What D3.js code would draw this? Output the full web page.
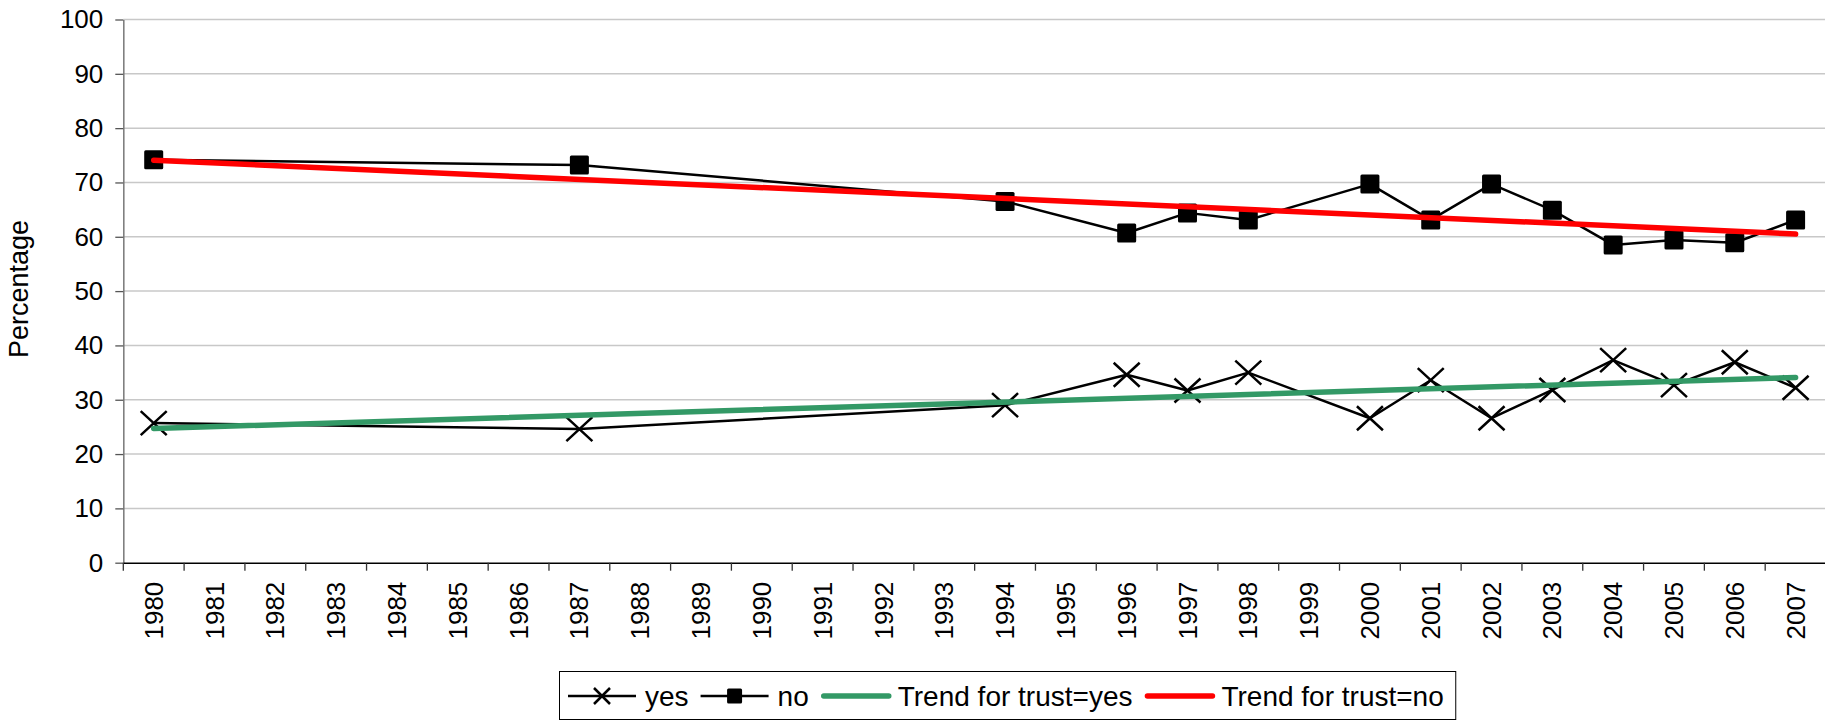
<!DOCTYPE html>
<html>
<head>
<meta charset="utf-8">
<script src="https://cdn.jsdelivr.net/npm/d3@7"></script>
<style>
body { margin: 0; background: #fff; }
text { font-family: "Liberation Sans", Arial, sans-serif; fill: #000; }
</style>
</head>
<body>
<svg id="chart"></svg>
<script>
"use strict";

// all categories shown on the x axis
var YEARS = ["1980","1981","1982","1983","1984","1985","1986","1987","1988","1989",
    "1990","1991","1992","1993","1994","1995","1996","1997","1998","1999",
    "2000","2001","2002","2003","2004","2005","2006","2007"];

// years that actually have survey data
var SURVEY_YEARS = ["1980","1987","1994","1996","1997","1998","2000","2001","2002","2003","2004","2005","2006","2007"];
var YES = [25.7, 24.6, 29.0, 34.6, 31.7, 35.0, 26.6, 33.6, 26.6, 31.8, 37.3, 32.7, 36.9, 32.2];
var NO = [74.2, 73.2, 66.5, 60.7, 64.4, 63.1, 69.7, 63.1, 69.7, 64.9, 58.5, 59.4, 58.9, 63.1];

// trend lines, start and end
var TREND_YEARS = ["1980", "2007"];
var TREND_YES = [24.7, 34.1];
var TREND_NO = [74.1, 60.5];

var YTICKS = [0, 10, 20, 30, 40, 50, 60, 70, 80, 90, 100];
var YLABEL = "Percentage";
var LEGEND = ["yes", "no", "Trend for trust=yes", "Trend for trust=no"];

var GREEN = "#339966";
var RED = "#ff0000";

var W = 1825, H = 721;
var svg = d3.select("#chart").attr("width", W).attr("height", H);

var x = d3.scaleBand().domain(YEARS).range([123.3, 1826]).padding(0);
var y = d3.scaleLinear().domain([0, 100]).range([562.7, 19.5]);
var cx = function(d) { return x(d) + x.bandwidth() / 2; };

// gridlines
svg.append("g").selectAll("line")
    .data(YTICKS.slice(1))
    .enter().append("line")
        .attr("x1", 123.3).attr("x2", W)
        .attr("y1", function(d) { return y(d); })
        .attr("y2", function(d) { return y(d); })
        .attr("stroke", "#c8c8c8")
        .attr("stroke-width", 1.5);

// y axis
var gy = svg.append("g").attr("transform", "translate(123.3,0)")
    .call(d3.axisLeft(y).tickValues(YTICKS).tickSize(8).tickSizeOuter(0).tickPadding(12));
gy.select(".domain").attr("stroke", "#808080").attr("stroke-width", 1.6);
gy.selectAll(".tick line").attr("stroke", "#555").attr("stroke-width", 1.3);
gy.selectAll(".tick text").style("font-size", "26px").attr("fill", "#000");

// x axis
var gx = svg.append("g").attr("transform", "translate(0,562.7)")
    .call(d3.axisBottom(x).tickSize(0).tickSizeOuter(0));
gx.select(".domain").attr("stroke", "#000").attr("stroke-width", 1.5);
gx.selectAll(".tick text")
    .style("font-size", "26px")
    .attr("fill", "#000")
    .attr("text-anchor", "end")
    .attr("transform", "rotate(-90)")
    .attr("x", -19)
    .attr("y", 0)
    .attr("dy", "0.35em");
// ticks between categories
gx.append("g").selectAll("line")
    .data(YEARS)
    .enter().append("line")
        .attr("x1", function(d) { return x(d); })
        .attr("x2", function(d) { return x(d); })
        .attr("y1", 0).attr("y2", 8)
        .attr("stroke", "#333")
        .attr("stroke-width", 1.3);

// y label
svg.append("text")
    .attr("transform", "translate(28,289) rotate(-90)")
    .attr("text-anchor", "middle")
    .style("font-size", "27px")
    .text(YLABEL);

var line = d3.line()
    .x(function(d) { return cx(d[0]); })
    .y(function(d) { return y(d[1]); });

var yesPts = d3.zip(SURVEY_YEARS, YES);
var noPts = d3.zip(SURVEY_YEARS, NO);

var plot = svg.append("g");

plot.append("path").datum(yesPts)
    .attr("fill", "none").attr("stroke", "#000").attr("stroke-width", 2.5)
    .attr("stroke-linejoin", "round")
    .attr("d", line);
plot.append("path").datum(noPts)
    .attr("fill", "none").attr("stroke", "#000").attr("stroke-width", 2.5)
    .attr("stroke-linejoin", "round")
    .attr("d", line);

var cross = function(g, px, py, w, h) {
    g.append("path")
        .attr("d", "M" + (px - w) + "," + (py - h) + "L" + (px + w) + "," + (py + h) +
                   "M" + (px - w) + "," + (py + h) + "L" + (px + w) + "," + (py - h))
        .attr("stroke", "#000").attr("stroke-width", 2.5).attr("fill", "none");
};
var square = function(g, px, py, s) {
    g.append("rect")
        .attr("x", px - s / 2).attr("y", py - s / 2)
        .attr("width", s).attr("height", s)
        .attr("rx", 1.5)
        .attr("fill", "#000");
};

yesPts.forEach(function(d) { cross(plot, cx(d[0]), y(d[1]), 13, 12); });
noPts.forEach(function(d) { square(plot, cx(d[0]), y(d[1]), 19); });

plot.append("path").datum(d3.zip(TREND_YEARS, TREND_YES))
    .attr("fill", "none").attr("stroke", GREEN).attr("stroke-width", 5.5)
    .attr("stroke-linecap", "round")
    .attr("d", line);
plot.append("path").datum(d3.zip(TREND_YEARS, TREND_NO))
    .attr("fill", "none").attr("stroke", RED).attr("stroke-width", 5.5)
    .attr("stroke-linecap", "round")
    .attr("d", line);

// legend
var lg = svg.append("g");
var box = lg.append("rect")
    .attr("x", 559.5).attr("y", 671.5)
    .attr("height", 48)
    .attr("fill", "#fff").attr("stroke", "#000").attr("stroke-width", 1);

var lx = 568;
var ly = 696;
LEGEND.forEach(function(label, i) {
    var isTrend = i >= 2;
    if (isTrend) {
        lg.append("line")
            .attr("x1", lx + 3).attr("x2", lx + 68)
            .attr("y1", ly).attr("y2", ly)
            .attr("stroke", i === 2 ? GREEN : RED)
            .attr("stroke-width", 5.5)
            .attr("stroke-linecap", "round");
    } else {
        lg.append("line")
            .attr("x1", lx).attr("x2", lx + 68)
            .attr("y1", ly).attr("y2", ly)
            .attr("stroke", "#000").attr("stroke-width", 2.5);
        if (i === 0) {
            cross(lg, lx + 34, ly, 8, 8);
        } else {
            square(lg, lx + 34, ly, 15);
        }
    }
    var t = lg.append("text")
        .attr("x", lx + 77)
        .attr("y", ly)
        .attr("dy", "0.35em")
        .style("font-size", "28px")
        .text(label);
    lx = lx + 77 + t.node().getComputedTextLength() + 12;
});
box.attr("width", lx - 559.5);
</script>
</body>
</html>
